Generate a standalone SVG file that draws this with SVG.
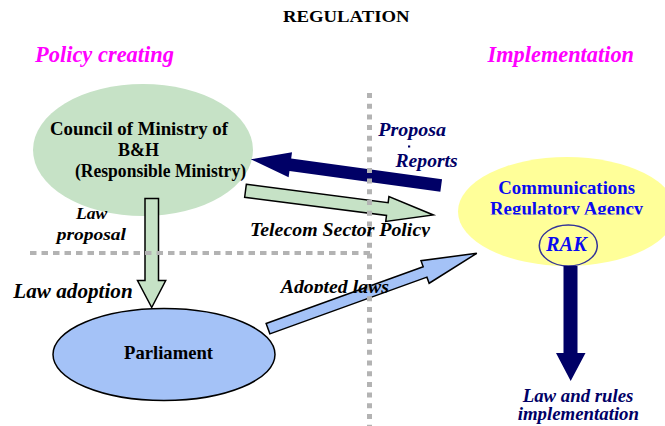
<svg xmlns="http://www.w3.org/2000/svg" width="665" height="426" viewBox="0 0 665 426">
<style>
  text { font-weight: bold; }
  .it { font-style: italic; }
  .mag { fill: #ff00ff; font-size: 22.5px; }
  .blk { fill: #000000; }
  .navy { fill: #000066; }
  .blue { fill: #0a0af0; }
  .dotH { stroke: #b3b3b3; stroke-width: 4; stroke-dasharray: 6.5 5; fill: none; }
  .dotV { stroke: #b3b3b3; stroke-width: 5; stroke-dasharray: 5 5.7; fill: none; }
  .outl { stroke: #000000; stroke-width: 1.5; stroke-linejoin: miter; }
</style>
<defs>
  <clipPath id="clipAgency"><rect x="440" y="195" width="225" height="19.5"/></clipPath>
  <clipPath id="clipTelecom"><rect x="240" y="215" width="200" height="22"/></clipPath>
  <clipPath id="clipAdopted"><rect x="270" y="270" width="130" height="23"/></clipPath>
</defs>

<rect width="665" height="426" fill="#ffffff"/>

<g id="title" font-family="Liberation Serif">
  <text class="blk" x="283" y="21.7" font-size="17.5" textLength="126.5" lengthAdjust="spacingAndGlyphs">REGULATION</text>
</g>
<g id="headers" font-family="Liberation Serif">
  <text class="it mag" x="35" y="61.7" textLength="139" lengthAdjust="spacingAndGlyphs">Policy creating</text>
  <text class="it mag" x="487.5" y="61.7" textLength="146.5" lengthAdjust="spacingAndGlyphs">Implementation</text>
</g>

<g id="council" font-family="Liberation Serif">
  <ellipse cx="143" cy="150" rx="110" ry="66" fill="#c6e2c6"/>
  <text class="blk" x="50" y="134.5" font-size="18.6" textLength="178" lengthAdjust="spacingAndGlyphs">Council of Ministry of</text>
  <text class="blk" x="118" y="156" font-size="18.6" textLength="41" lengthAdjust="spacingAndGlyphs">B&amp;H</text>
  <text class="blk" x="75" y="176.7" font-size="18.6" textLength="171" lengthAdjust="spacingAndGlyphs">(Responsible Ministry)</text>
</g>

<g id="rak-agency" font-family="Liberation Serif">
  <ellipse cx="567" cy="211.5" rx="109" ry="54.5" fill="#ffff99"/>
  <text class="blue" x="498.3" y="194.3" font-size="19" textLength="136.7" lengthAdjust="spacingAndGlyphs">Communications</text>
  <g clip-path="url(#clipAgency)">
    <text class="blue" x="490" y="214.5" font-size="19" textLength="153.3" lengthAdjust="spacingAndGlyphs">Regulatory Agency</text>
  </g>
  <ellipse cx="568.3" cy="245.5" rx="29" ry="20.5" fill="none" stroke="#333399" stroke-width="1.5"/>
  <text class="it blue" x="546" y="250.7" font-size="20" textLength="40.7" lengthAdjust="spacingAndGlyphs">RAK</text>
</g>

<g id="parliament" font-family="Liberation Serif">
  <ellipse cx="164" cy="354.5" rx="111" ry="46" fill="#a4c2f7" class="outl"/>
  <text class="blk" x="124" y="359" font-size="19" textLength="89" lengthAdjust="spacingAndGlyphs">Parliament</text>
</g>

<g id="connectors">
  <polygon class="outl" fill="#c6e2c6" points="145,198.5 158.5,198.5 158.5,280.5 165.7,280.5 151.7,307.5 137.5,280.5 145,280.5"/>
  <polygon fill="#000066" transform="translate(250.7,159.3) rotate(7.83)" points="0,0 40,-12.5 40,-6.2 192.3,-6.2 192.3,6.2 40,6.2 40,12.5"/>
  <polygon class="outl" fill="#c6e2c6" transform="translate(245.5,190.8) rotate(7.34)" points="0,-6.5 143,-6.5 143,-12.5 189.4,0 143,12.5 143,6.5 0,6.5"/>
  <polygon class="outl" fill="#a4c2f7" transform="translate(268,328.7) rotate(-19.86)" points="0,-5.5 167,-5.5 167,-12 222,0 167,12 167,5.5 0,5.5"/>
  <polygon fill="#000066" points="563.5,266 577.5,266 577.5,353 585.5,353 570.7,381 556,353 563.5,353"/>
</g>

<g id="dividers">
  <line class="dotH" x1="30" y1="253" x2="372" y2="253"/>
  <line class="dotV" x1="369.5" y1="93" x2="369.5" y2="426"/>
</g>

<g id="labels" font-family="Liberation Serif">
  <text class="it blk" x="76" y="219" font-size="17" textLength="31.3" lengthAdjust="spacingAndGlyphs">Law</text>
  <text class="it blk" x="56.7" y="240" font-size="17" textLength="69.3" lengthAdjust="spacingAndGlyphs">proposal</text>
  <text class="it blk" x="13.3" y="298.3" font-size="20.5" textLength="119.4" lengthAdjust="spacingAndGlyphs">Law adoption</text>
  <g clip-path="url(#clipTelecom)">
    <text class="it blk" x="250" y="236" font-size="19.5" textLength="180" lengthAdjust="spacingAndGlyphs">Telecom Sector Policy</text>
  </g>
  <g clip-path="url(#clipAdopted)">
    <text class="it blk" x="280.7" y="292.5" font-size="19" textLength="108.3" lengthAdjust="spacingAndGlyphs">Adopted laws</text>
  </g>
  <text class="it navy" x="378.3" y="136" font-size="19" textLength="67.7" lengthAdjust="spacingAndGlyphs">Proposa</text>
  <rect x="408" y="145.5" width="2.2" height="2" fill="#000066"/>
  <text class="it navy" x="395.5" y="166.5" font-size="19" textLength="62.2" lengthAdjust="spacingAndGlyphs">Reports</text>
  <text class="it navy" x="522.7" y="401.7" font-size="18.5" textLength="110.7" lengthAdjust="spacingAndGlyphs">Law and rules</text>
  <text class="it navy" x="517.7" y="420" font-size="18.5" textLength="121.3" lengthAdjust="spacingAndGlyphs">implementation</text>
</g>
</svg>
